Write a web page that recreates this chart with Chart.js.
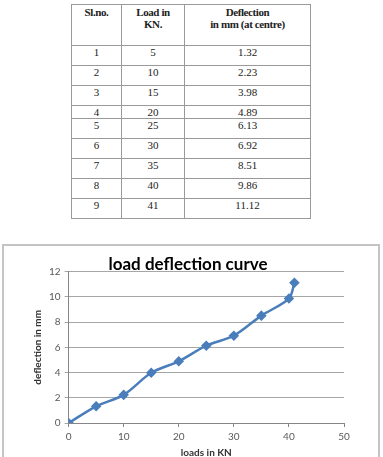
<!DOCTYPE html>
<html>
<head>
<meta charset="utf-8">
<script src="https://cdn.jsdelivr.net/npm/chart.js@4.4.1/dist/chart.umd.min.js"></script>
<style>
  body{margin:0;width:383px;height:457px;overflow:hidden;background:#fff;position:relative}
  #tbl{position:absolute;left:71px;top:4px;border-collapse:collapse;font-family:"Liberation Serif",serif;font-size:11px;color:#222}
  #tbl td,#tbl th{border:1px solid #9a9a9a;text-align:center;vertical-align:top;padding:0;line-height:12px;box-sizing:border-box}
  #tbl th{font-weight:bold;height:41px;padding-top:1px;letter-spacing:-0.4px}
  #tbl td{height:20px}
  #tbl tr.short td{height:12px}
  .box{position:absolute;left:2px;top:244px;width:374px;height:230px;border:2px solid #c4c4c4}
  #wrap{position:absolute;left:4px;top:246px;width:374px;height:213px}
</style>
</head>
<body>
<table id="tbl">
  <thead>
    <tr><th style="width:50px">Sl.no.</th><th style="width:63px">Load in<br>KN.</th><th style="width:126px">Deflection<br>in mm (at centre)</th></tr>
  </thead>
  <tbody id="rows"></tbody>
</table>
<div class="box"></div>
<div id="wrap"><canvas id="diagram"></canvas></div>
<script>
// table values
const slNo = [1, 2, 3, 4, 5, 6, 7, 8, 9];
const loadKN = ['5', '10', '15', '20', '25', '30', '35', '40', '41'];
const deflectionMM = ['1.32', '2.23', '3.98', '4.89', '6.13', '6.92', '8.51', '9.86', '11.12'];

// chart values (curve starts from origin)
const loads = [0, 5, 10, 15, 20, 25, 30, 35, 40, 41];
const deflections = [0, 1.32, 2.23, 3.98, 4.89, 6.13, 6.92, 8.51, 9.86, 11.12];

const body = document.getElementById('rows');
slNo.forEach((n, i) => {
  const tr = document.createElement('tr');
  if (i === 3) tr.className = 'short';
  tr.innerHTML = '<td>' + n + '</td><td>' + loadKN[i] + '</td><td>' + deflectionMM[i] + '</td>';
  body.appendChild(tr);
});

const ctx = document.getElementById('diagram');
const blue = '#4a7ebb';
if (ctx) {
  new Chart(ctx, {
    type: 'line',
    data: {
      datasets: [{
        data: loads.map((x, i) => ({x: x, y: deflections[i]})),
        borderColor: blue,
        backgroundColor: blue,
        borderWidth: 2.5,
        pointStyle: 'rectRot',
        pointRadius: 3.5,
        pointHoverRadius: 3.5,
        tension: 0.3
      }]
    },
    options: {
      responsive: true,
      maintainAspectRatio: false,
      animation: false,
      layout: {padding: {top: 0, right: 34, left: 28, bottom: 0}},
      scales: {
        x: {
          type: 'linear',
          min: 0, max: 50,
          ticks: {stepSize: 10, color: '#595959', font: {family: 'Lato', size: 10}, padding: 4},
          grid: {drawOnChartArea: false, tickLength: 4, color: '#868686'},
          border: {color: '#868686'},
          title: {display: true, text: 'loads in KN', color: '#333', font: {family: 'Lato', size: 10, weight: 'bold'}, padding: {top: 0, bottom: 0}}
        },
        y: {
          min: 0, max: 12,
          ticks: {stepSize: 2, color: '#595959', font: {family: 'Lato', size: 10}, padding: 4},
          grid: {color: '#a6a6a6', tickLength: 4},
          border: {color: '#868686'},
          title: {display: true, text: 'deflection in mm', color: '#333', font: {family: 'Lato', size: 10, weight: 'bold'}, padding: {top: 0, bottom: 1}}
        }
      },
      plugins: {
        legend: {display: false},
        tooltip: {enabled: false},
        title: {
          display: true,
          text: 'load deflection curve',
          color: '#000',
          font: {family: 'Lato', size: 17, weight: 'bold', lineHeight: 0.8},
          padding: {top: 12, bottom: 0}
        }
      }
    }
  });
}
</script>
</body>
</html>
